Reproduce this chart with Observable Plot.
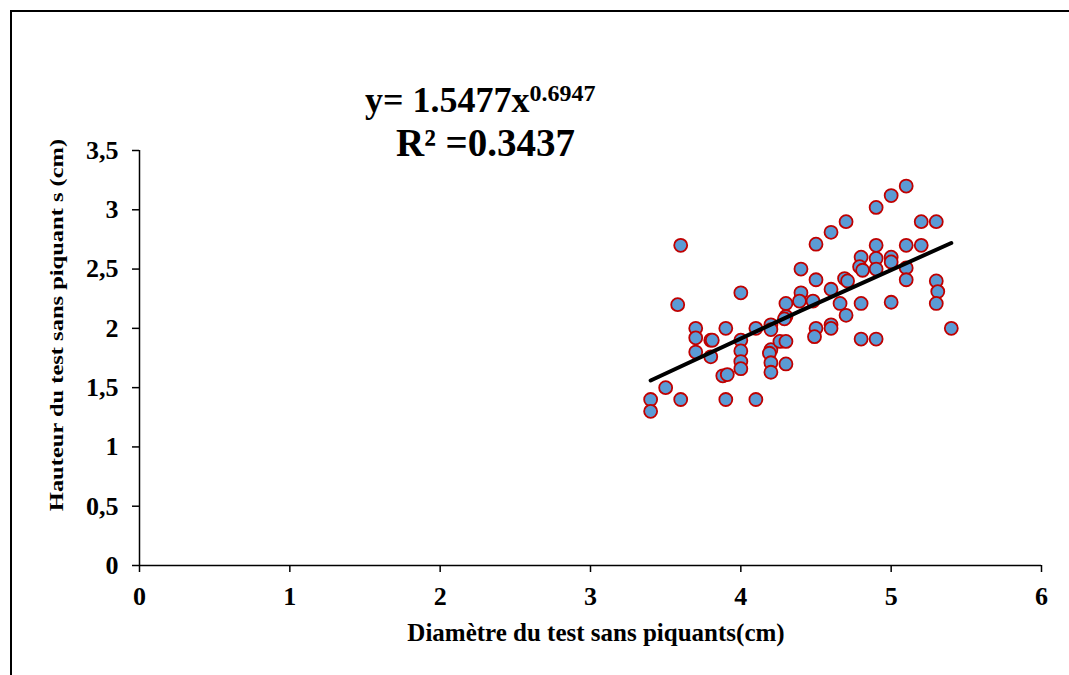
<!DOCTYPE html>
<html>
<head>
<meta charset="utf-8">
<script src="https://cdn.jsdelivr.net/npm/d3@7"></script>
<script src="https://cdn.jsdelivr.net/npm/@observablehq/plot@0.6"></script>
<style>
  html, body { margin: 0; padding: 0; background: #fff; overflow: hidden; }
  #wrap { position: relative; width: 1069px; height: 675px; }
  #frame { position: absolute; left: 10px; top: 10px; width: 1100px; height: 700px;
           border-left: 2px solid #000; border-top: 2px solid #000; pointer-events: none; }
  svg { font-family: "Liberation Serif", "Times New Roman", serif; }
</style>
</head>
<body>
<div id="wrap"><div id="frame"></div></div>
<script>
// Diamètre du test sans piquants (cm)
const diameter = [3.4, 3.4, 3.5, 3.6, 3.58, 3.6, 3.7, 3.7, 3.7, 3.8, 3.81, 3.8, 3.88, 3.91, 3.9, 3.9,
  4.0, 4.0, 4.0, 4.0, 4.0, 4.1, 4.1, 4.2, 4.2, 4.2, 4.19, 4.2, 4.2, 4.26, 4.3, 4.3, 4.3, 4.29, 4.3,
  4.4, 4.4, 4.39, 4.48, 4.5, 4.5, 4.5, 4.49, 4.6, 4.6, 4.6, 4.6, 4.66, 4.7, 4.69, 4.71, 4.7,
  4.8, 4.79, 4.81, 4.8, 4.8, 4.9, 4.9, 4.9, 4.9, 4.9, 5.0, 5.0, 5.0, 5.0,
  5.1, 5.1, 5.1, 5.1, 5.2, 5.2, 5.3, 5.3, 5.31, 5.3, 5.4];
// Hauteur du test sans piquants (cm)
const hauteur = [1.4, 1.3, 1.5, 1.4, 2.2, 2.7, 2.0, 1.92, 1.8, 1.9, 1.9, 1.76, 1.6, 1.61, 1.4, 2.0,
  2.3, 1.9, 1.81, 1.72, 1.66, 2.0, 1.4, 2.03, 1.99, 1.82, 1.79, 1.71, 1.63, 1.89, 1.89, 1.7, 2.1, 2.08, 2.21,
  2.5, 2.3, 2.23, 2.23, 2.71, 2.41, 2.0, 1.93, 2.81, 2.33, 2.03, 2.0, 2.21, 2.9, 2.42, 2.4, 2.11,
  2.6, 2.52, 2.49, 2.21, 1.91, 3.02, 2.7, 2.59, 2.5, 1.91, 3.12, 2.6, 2.56, 2.22,
  3.2, 2.7, 2.51, 2.41, 2.9, 2.7, 2.9, 2.4, 2.31, 2.21, 2.0];
// Trend line
const trendX = [3.4, 4.4, 5.4];
const trendY = [1.56, 2.15, 2.72];
const xTicks = [0, 1, 2, 3, 4, 5, 6];
const yTicks = [0, 0.5, 1, 1.5, 2, 2.5, 3, 3.5];
const xTitle = "Diamètre du test sans piquants(cm)";
const yTitle = "Hauteur du test sans piquant s (cm)";

const points = diameter.map((d, i) => ({x: d, y: hauteur[i]}));
const trend = trendX.map((d, i) => ({x: d, y: trendY[i]}));
const fmt = d => String(d).replace(".", ",");

const chart = Plot.plot({
  width: 1069,
  height: 675,
  marginLeft: 139,
  marginRight: 28,
  marginTop: 150,
  marginBottom: 110,
  style: {background: "transparent", color: "#000", fontFamily: "Liberation Serif", overflow: "visible"},
  x: {domain: [0, 6]},
  y: {domain: [0, 3.5]},
  marks: [
    Plot.axisX({ticks: xTicks, tickSize: 7, tickPadding: 14, tickFormat: d => fmt(d), label: null,
      fontSize: 26, fontWeight: "bold", strokeWidth: 1.5}),
    Plot.axisY({ticks: yTicks, tickSize: 7, tickPadding: 14, tickFormat: d => fmt(d), label: null,
      fontSize: 26, fontWeight: "bold", strokeWidth: 1.5}),
    Plot.ruleY([0], {stroke: "#000", strokeWidth: 1.5}),
    Plot.ruleX([0], {stroke: "#000", strokeWidth: 1.5}),
    Plot.dot(points, {x: "x", y: "y", r: 6.5, fill: "#5B9BD5", stroke: "#C00000", strokeWidth: 1.8, fillOpacity: 1}),
    Plot.line(trend, {x: "x", y: "y", stroke: "#000", strokeWidth: 4, strokeLinecap: "round"})
  ]
});

document.getElementById("wrap").insertBefore(chart, document.getElementById("frame"));

const svg = d3.select(chart);
// Equation
const eq = svg.append("text")
  .attr("x", 365).attr("y", 112).attr("text-anchor", "start")
  .attr("font-family", "Liberation Serif").attr("font-weight", "bold").attr("font-size", 36)
  .attr("fill", "#000");
eq.append("tspan").text("y= 1.5477x");
eq.append("tspan").attr("font-size", 24).attr("dy", -11).text("0.6947");
svg.append("text")
  .attr("x", 396).attr("y", 156).attr("text-anchor", "start")
  .attr("font-family", "Liberation Serif").attr("font-weight", "bold").attr("font-size", 39)
  .attr("fill", "#000")
  .text("R² =0.3437");
// Axis titles
svg.append("text")
  .attr("x", 596).attr("y", 641).attr("text-anchor", "middle")
  .attr("font-family", "Liberation Serif").attr("font-weight", "bold").attr("font-size", 25)
  .attr("fill", "#000").text(xTitle);
svg.append("text")
  .attr("transform", "translate(63,325) rotate(-90) scale(1,0.8)")
  .attr("text-anchor", "middle")
  .attr("font-family", "Liberation Serif").attr("font-weight", "bold").attr("font-size", 24.5)
  .attr("fill", "#000").text(yTitle);
</script>
</body>
</html>
